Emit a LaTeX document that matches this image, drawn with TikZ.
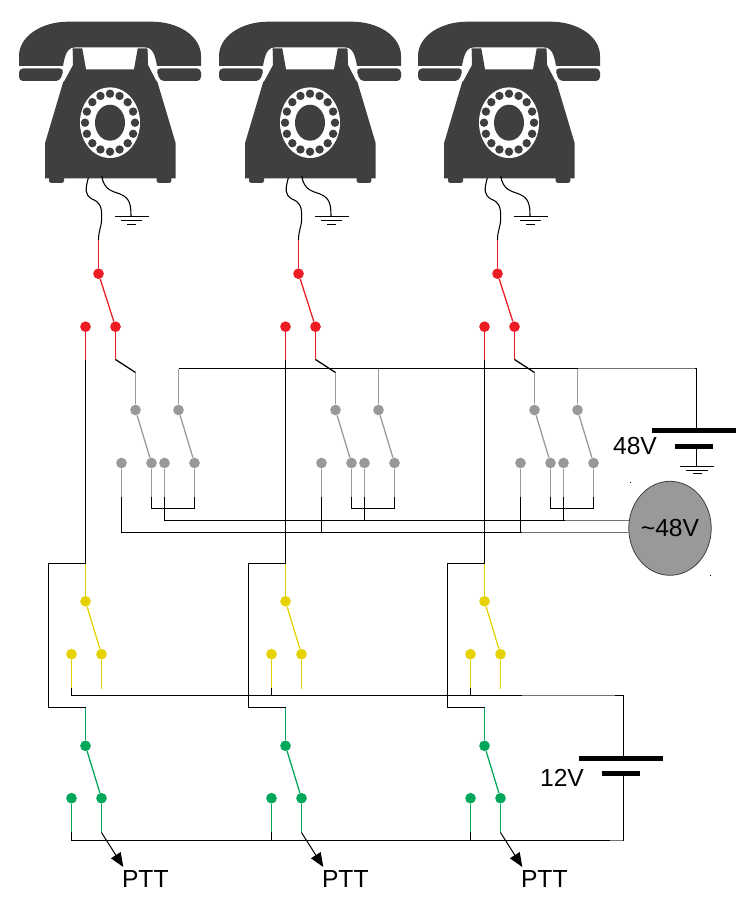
\documentclass[tikz,border=0pt]{standalone}
\usepackage{fontspec}
\setmainfont{Liberation Sans}
\usetikzlibrary{arrows.meta,shapes.geometric}
\definecolor{phonec}{HTML}{403F3E}
\definecolor{redc}{HTML}{ED1C24}
\definecolor{yelc}{HTML}{E6D200}
\definecolor{grnc}{HTML}{00A65A}
\definecolor{gryc}{HTML}{999999}
\tikzset{
  dot/.style={circle,inner sep=0pt,minimum size=8pt,draw=none},
  wire/.style={line width=0.95pt,black},
  redw/.style={line width=0.95pt,redc},
  yelw/.style={line width=0.95pt,yelc},
  grnw/.style={line width=0.95pt,grnc},
  gryw/.style={line width=0.95pt,gryc},
  fade/.style={line width=0.95pt,black!55},
  plate/.style={line width=3.9pt,black},
  gnd/.style={line width=0.75pt,black},
  lbl/.style={inner sep=0pt,font=\fontsize{18.5}{22}\selectfont}
}
\begin{document}
\begin{tikzpicture}[x=0.75pt,y=-0.75pt]
\useasboundingbox (0,0) rectangle (744,909);
\fill[white] (0,0) rectangle (744,909);
\foreach \i/\dx in {1/0,2/200,3/399}{
\begin{scope}[shift={(\dx,0)}]
  % handset
  \fill[phonec] (19,66) -- (19,56) .. controls (19,36) and (42,21.7) .. (68,21.7) -- (152,21.7)
     .. controls (178,21.7) and (201,36) .. (201,56) -- (201,66) -- (157,66)
     .. controls (155,55) and (153,47.5) .. (145,47.5) -- (75,47.5)
     .. controls (67,47.5) and (65,55) .. (63,66) -- cycle;
  \fill[phonec,rounded corners=3pt] (19,68.5) -- (19,81) -- (60,81) -- (64,68.5) -- cycle;
  \fill[phonec,rounded corners=3pt] (201,68.5) -- (201,81) -- (160,81) -- (156,68.5) -- cycle;
  % feet
  \fill[phonec,rounded corners=1.5pt] (49,175) -- (49,182.8) -- (64,182.8) -- (64,175) -- cycle;
  \fill[phonec,rounded corners=1.5pt] (156.7,175) -- (156.7,182.8) -- (171.3,182.8) -- (171.3,175) -- cycle;
  % body
  \fill[phonec] (72.3,48.5) -- (72.7,65) -- (63.3,81.7) -- (45,143.3) -- (45,178.3)
     -- (175.7,178.3) -- (175.7,143.3) -- (157.3,81.7) -- (148.3,65) -- (147.7,48.5)
     -- (137.7,48.5) -- (134,69.3) -- (86,69.3) -- (82.3,48.5) -- cycle;
  \draw[white,line width=1pt] (60.5,83) -- (64,80) -- (72,65) -- (71.8,48);
  \draw[white,line width=1pt] (160,83) -- (156.7,80) -- (149,65) -- (148.2,48);
  % dial
  \fill[white] (110,122.7) circle[x radius=30,y radius=35.3];
  \fill[phonec] (110,122.7) circle[x radius=15,y radius=18];
  \foreach \a in {0,22.5,...,337.5}
    \fill[phonec] ({110+25*cos(\a)},{122.7+29*sin(\a)}) circle[radius=4.2];
  % cords and ground
  \coordinate (cordtop\i) at (88.3,178);
  \coordinate (cordend\i) at (98.5,240);
  \coordinate (gcordtop\i) at (101.7,176);
  \coordinate (gnode\i) at (131,216.5);
  \draw[wire,line width=0.8pt] (cordtop\i) .. controls (85,190) and (85,195) .. (92,199)
     .. controls (99,202) and (102,205) .. (101.7,218) .. controls (101.5,228) and (98.5,230) .. (cordend\i);
  \draw[wire,line width=0.8pt] (gcordtop\i) .. controls (104,190) and (112,191) .. (120,194)
     .. controls (130,198) and (131,205) .. (gnode\i);
  \draw[gnd] (115,216.5) -- (149,216.5);
  \draw[gnd] (121,220.5) -- (142,220.5);
  \draw[gnd] (127,224.5) -- (136,224.5);
  % red stage
  \node[dot,fill=redc] (rt\i) at (98.5,273.7) {};
  \node[dot,fill=redc] (rl\i) at (85.5,326.7) {};
  \node[dot,fill=redc] (rr\i) at (115.5,326.7) {};
  \draw[redw] (cordend\i) -- (rt\i);
  \draw[redw] (rt\i) -- (rr\i);
  \coordinate (rlb\i) at (85.5,359.5);
  \coordinate (rrb\i) at (115.5,359.5);
  \draw[redw] (rl\i) -- (rlb\i);
  \draw[redw] (rr\i) -- (rrb\i);
  % gray stage
  \node[dot,fill=gryc] (ga\i) at (135.5,410) {};
  \node[dot,fill=gryc] (gb\i) at (178.5,410) {};
  \node[dot,fill=gryc] (c1\i) at (121.5,463) {};
  \node[dot,fill=gryc] (c2\i) at (151.5,463) {};
  \node[dot,fill=gryc] (c3\i) at (164.5,463) {};
  \node[dot,fill=gryc] (c4\i) at (194.5,463) {};
  \coordinate (gak\i) at (135.5,372.5);
  \coordinate (gbt\i) at (178.5,368.5);
  \draw[wire] (rrb\i) -- (gak\i);
  \draw[gryw] (gak\i) -- (ga\i);
  \draw[gryw] (gbt\i) -- (gb\i);
  \draw[gryw] (ga\i) -- (c2\i);
  \draw[gryw] (gb\i) -- (c4\i);
  \coordinate (d1\i) at (121.5,496.7);
  \coordinate (d2\i) at (151.5,496.7);
  \coordinate (d3\i) at (164.5,496.7);
  \coordinate (d4\i) at (194.5,496.7);
  \coordinate (e2\i) at (151.5,508.5);
  \coordinate (e4\i) at (194.5,508.5);
  \draw[gryw] (c1\i) -- (d1\i);
  \draw[gryw] (c2\i) -- (d2\i);
  \draw[gryw] (c3\i) -- (d3\i);
  \draw[gryw] (c4\i) -- (d4\i);
  \coordinate (j1\i) at (121.5,532.5);
  \coordinate (j3\i) at (164.5,520.5);
  \draw[wire] (d2\i) -- (e2\i) -- (e4\i) -- (d4\i);
  \draw[wire] (d3\i) -- (j3\i);
  \draw[wire] (d1\i) -- (j1\i);
  % long black feed with box
  \coordinate (bt\i) at (85.5,563.5);
  \coordinate (bl\i) at (48.5,563.5);
  \coordinate (bb\i) at (48.5,707.5);
  \coordinate (gt\i) at (85.5,707.5);
  \draw[wire] (rlb\i) -- (bt\i) -- (bl\i) -- (bb\i) -- (gt\i);
  % yellow stage
  \node[dot,fill=yelc] (yt\i) at (85.5,601.3) {};
  \node[dot,fill=yelc] (yl\i) at (71.5,654.2) {};
  \node[dot,fill=yelc] (yr\i) at (101.5,654.2) {};
  \coordinate (yld\i) at (71.5,687.5);
  \coordinate (yrd\i) at (101.5,688.5);
  \coordinate (ylj\i) at (71.5,695.5);
  \draw[yelw] (bt\i) -- (yt\i);
  \draw[yelw] (yt\i) -- (yr\i);
  \draw[yelw] (yl\i) -- (yld\i);
  \draw[yelw] (yr\i) -- (yrd\i);
  \draw[wire] (yld\i) -- (ylj\i);
  % green stage
  \node[dot,fill=grnc] (gt2\i) at (85.5,745.8) {};
  \node[dot,fill=grnc] (gl\i) at (71.5,798.2) {};
  \node[dot,fill=grnc] (gr\i) at (101.5,798.2) {};
  \coordinate (gld\i) at (71.5,832);
  \coordinate (grd\i) at (101.5,832.5);
  \coordinate (glj\i) at (71.5,840.5);
  \draw[grnw] (gt\i) -- (gt2\i);
  \draw[grnw] (gt2\i) -- (gr\i);
  \draw[grnw] (gl\i) -- (gld\i);
  \draw[grnw] (gr\i) -- (grd\i);
  \draw[wire] (gld\i) -- (glj\i);
  % PTT
  \node[lbl] (ptt\i) at (145.3,879.5) {PTT};
  \coordinate (ptip\i) at (123.3,867);
  \draw[wire,line width=0.75pt,-{Triangle[length=10.5pt,width=8.5pt]}] (grd\i) -- (ptip\i);
\end{scope}
}
% 48 V battery
\coordinate (b48t) at (696.5,368.5);
\coordinate (b48p) at (696.5,430.3);
\coordinate (b48n) at (696.5,446.7);
\coordinate (b48g) at (696.5,466.5);
\draw[wire] (gbt1) -- (b48t) -- (b48p);
\draw[fade] (578,368.5) -- (695,368.5);
\draw[plate] (652,430.3) -- (736,430.3);
\draw[plate] (675,446.7) -- (713,446.7);
\draw[wire] (b48n) -- (b48g);
\draw[gnd] (680,466.5) -- (714,466.5);
\draw[gnd] (686,470) -- (708,470);
\draw[gnd] (693,473.5) -- (702,473.5);
\node[lbl] (l48) at (635,445.7) {48V};
% AC source
\coordinate (acb1) at (635,520.5);
\coordinate (acb2) at (635,532.5);
\draw[wire] (j31) -- (acb1);
\draw[wire] (j11) -- (acb2);
\draw[fade] (565,520.5) -- (630,520.5);
\draw[fade] (522,532.5) -- (630,532.5);
\node[ellipse,draw=black!75,fill=gryc,line width=0.6pt,inner sep=0pt,minimum width=60pt,minimum height=70.5pt,lbl] (ac) at (670,528.3) {\textasciitilde48V};
\fill[black] (630,481.5) rectangle (631,482.5);
\fill[black] (710,575) rectangle (711,576);
% 12 V battery
\coordinate (b12t) at (623.5,695.5);
\coordinate (b12p) at (623.5,758.3);
\coordinate (b12n) at (623.5,773.3);
\coordinate (b12b) at (623.5,840.5);
\draw[wire] (ylj1) -- (b12t) -- (b12p);
\draw[wire] (b12n) -- (b12b) -- (glj1);
\draw[fade] (522,695.5) -- (615,695.5);
\draw[fade] (610,840.5) -- (623,840.5);
\draw[plate] (579,758.3) -- (662.7,758.3);
\draw[plate] (602,773.3) -- (640,773.3);
\node[lbl] (l12) at (562,778) {12V};
\end{tikzpicture}
\end{document}
